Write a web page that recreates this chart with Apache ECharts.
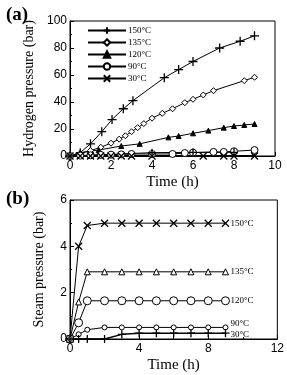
<!DOCTYPE html>
<html><head><meta charset="utf-8">
<script src="https://cdn.jsdelivr.net/npm/echarts@6/dist/echarts.min.js"></script>
<style>html,body{margin:0;padding:0;background:#fff}#c{width:287px;height:375px}</style>
</head><body><div id="c"></div>
<script>
// Panel (a): hydrogen pressure (bar) vs time (h)
const h2_150 = [[0,0],[0.5,2.5],[1,9],[1.55,18],[2.05,27],[2.6,35],[3.07,41],[4.6,58],[5.3,64],[6,70],[7.3,80],[8.3,85],[9,89]];
const h2_135 = [[0,0],[0.5,2],[1,4],[1.5,6.5],[2,9.5],[2.4,12.5],[2.7,15],[3,18],[3.3,21],[3.6,24],[4,28],[4.5,31.6],[5,35],[5.6,39.5],[6,42],[6.5,45.2],[7,48.4],[8.5,55.8],[9,58.3]];
const h2_120 = [[0,0],[0.5,2.5],[1.4,4.4],[2.5,7.4],[3.4,9],[4.8,13.8],[5.3,14.8],[6,16.8],[6.75,18.8],[7.5,21],[8,22.2],[8.5,23],[9,23.7]];
const h2_90 = [[0,0],[0.5,0.3],[1,0.5],[1.5,0.8],[2,1],[2.5,1.2],[3,1.5],[4,1.5],[5,1.5],[5.6,2.2],[6,2.5],[7,3],[7.5,3],[8,3.5],[9,4.4]];
const h2_30 = [[0,0],[0.5,0],[1,0],[1.5,0],[2,0],[2.5,0],[3,0],[4,0],[6.5,0],[7.5,0],[8,0],[9,0]];
const h2_extra = [[0,0],[4,2.5],[6,2.7],[8,2.7]];
// Panel (b): steam pressure (bar) vs time (h)
const stTime = [0,0.5,1,2,3,4,5,6,7,8,9];
const st_150 = [0,4,4.9,5,5,5,5,5,5,5,5];
const st_135 = [0,1.6,2.9,2.9,2.9,2.9,2.9,2.9,2.9,2.9,2.9];
const st_120 = [0,0.7,1.65,1.65,1.65,1.65,1.65,1.65,1.65,1.65,1.65];
const st_90 = [0,0.2,0.4,0.5,0.5,0.5,0.5,0.5,0.5,0.5,0.5];
const st_30 = [0,0,0,0,0.2,0.25,0.25,0.25,0.25,0.25,0.25];
const names = ['150°C','135°C','120°C','90°C','30°C'];

const PLUS = 'path://M0,5L10,5M5,0L5,10';
const CROSS = 'path://M0,0L10,10M10,0L0,10';
const serif = '"Liberation Serif","DejaVu Serif",serif';
const sans = '"Liberation Sans",Arial,sans-serif';

function pair(t, v){ return t.map((x,i)=>[x,v[i]]); }

const strokeSym = {color:'#000', borderColor:'#000', borderWidth:1.3};
const hollow = {color:'#fff', borderColor:'#000', borderWidth:1};
const filled = {color:'#000', borderColor:'#000', borderWidth:1};

function ser(name, data, sym, size, style, gi, extra){
  return Object.assign({
    name: name, type:'line', xAxisIndex:gi, yAxisIndex:gi, data:data,
    symbol:sym, symbolSize:size, showAllSymbol:true,
    lineStyle:{color:'#000', width:1}, itemStyle:style,
    emphasis:{disabled:true}, animation:false, z:3
  }, extra||{});
}

function axisX(gi, max, interval){
  return {type:'value', gridIndex:gi, min:0, max:max, interval:interval,
    axisLine:{show:true, onZero:false, lineStyle:{color:'#000', width:1}},
    axisTick:{show:true, inside:true, length:4, lineStyle:{color:'#000'}},
    minorTick:{show:true, splitNumber:2, length:2, lineStyle:{color:'#000'}},
    axisLabel:{color:'#000', fontFamily:sans, fontSize:12, margin:4},
    splitLine:{show:false},
    name:'Time (h)', nameLocation:'middle', nameGap:19,
    nameTextStyle:{color:'#000', fontFamily:serif, fontSize:15}};
}
function axisY(gi, max, interval, name){
  return {type:'value', gridIndex:gi, min:0, max:max, interval:interval,
    axisLine:{show:true, onZero:false, lineStyle:{color:'#000', width:1}},
    axisTick:{show:true, inside:true, length:4, lineStyle:{color:'#000'}},
    minorTick:{show:true, splitNumber:2, length:2, lineStyle:{color:'#000'}},
    axisLabel:{color:'#000', fontFamily:sans, fontSize:12, margin:3},
    splitLine:{show:false},
    name:name, nameLocation:'middle', nameGap:24,
    nameTextStyle:{color:'#000', fontFamily:serif, fontSize:14}};
}

const endLbl = (dy)=>({show:true, formatter:'{a}', color:'#000', fontFamily:serif, fontSize:9, offset:[2,dy], distance:3});

const chart = echarts.init(document.getElementById('c'), null, {renderer:'canvas'});
chart.setOption({
  animation:false,
  backgroundColor:'#fff',
  title:[
    {text:'(a)', left:1, top:1, textStyle:{fontFamily:serif, fontSize:19, fontWeight:'bold', color:'#000'}},
    {text:'(b)', left:1, top:185, textStyle:{fontFamily:serif, fontSize:19, fontWeight:'bold', color:'#000'}}
  ],
  grid:[
    {left:70, top:21, width:205, height:135, show:true, borderColor:'#000', borderWidth:1, backgroundColor:'transparent'},
    {left:70, top:200, width:208, height:139, show:true, borderColor:'#000', borderWidth:1, backgroundColor:'transparent'}
  ],
  legend:{
    left:82, top:21, orient:'vertical', itemWidth:38, itemHeight:8, itemGap:3,
    data:names, textStyle:{fontFamily:serif, fontSize:9, color:'#000', padding:[0,0,0,-3]},
    inactiveColor:'#000', selectedMode:false
  },
  xAxis:[axisX(0,10,2), axisX(1,12,4)],
  yAxis:[axisY(0,100,20,'Hydrogen pressure (bar)'), axisY(1,6,2,'Steam pressure (bar)')],
  series:[
    ser(names[0], h2_150, PLUS, 9, strokeSym, 0),
    ser(names[1], h2_135, 'diamond', 6, hollow, 0),
    ser(names[2], h2_120, 'triangle', 5, filled, 0),
    ser(names[3], h2_90, 'circle', 7, hollow, 0),
    ser(names[4], h2_30, CROSS, 7, strokeSym, 0, {lineStyle:{color:'#000', width:2}}),
    ser('', h2_extra, PLUS, 8, strokeSym, 0),
    ser(names[0], pair(stTime, st_150), CROSS, 7, strokeSym, 1, {endLabel:endLbl(0)}),
    ser(names[1], pair(stTime, st_135), 'triangle', 6, hollow, 1, {endLabel:endLbl(0)}),
    ser(names[2], pair(stTime, st_120), 'circle', 8, hollow, 1, {endLabel:endLbl(0)}),
    ser(names[3], pair(stTime, st_90), 'circle', 5, hollow, 1, {endLabel:endLbl(-4)}),
    ser(names[4], pair(stTime, st_30), PLUS, 8, strokeSym, 1, {endLabel:endLbl(1), lineStyle:{color:'#000', width:1.5}})
  ]
});
</script></body></html>
